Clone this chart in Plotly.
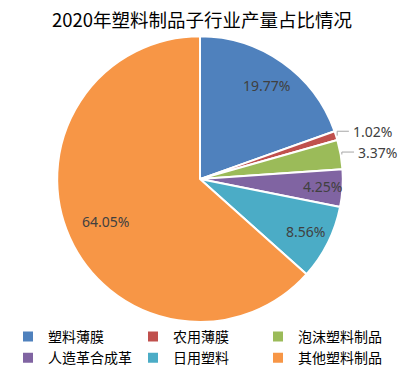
import math
import plotly.graph_objects as go

title = "2020年塑料制品子行业产量占比情况"
categories = ["塑料薄膜", "农用薄膜", "泡沫塑料制品", "人造革合成革", "日用塑料", "其他塑料制品"]
shares = [19.77, 1.02, 3.37, 4.25, 8.56, 64.05]
colors = ["#4F81BD", "#C0504D", "#9BBB59", "#8064A2", "#4BACC6", "#F79646"]

# label placement style (radius fraction along slice bisector; outside labels get leader lines)
label_outside = [False, True, True, False, False, False]
label_radius = [0.8, 1.1, 1.1, 0.85, 0.82, 0.72]

# the page body has an 8px margin, so the figure is sized to fit the 409x374 window
W, H = 401, 366
cx, cy, r = 192, 172.5, 144

fig = go.Figure(go.Pie(
    labels=categories,
    values=shares,
    textinfo="none",
    sort=False,
    direction="clockwise",
    rotation=0,
    marker=dict(colors=colors, line=dict(color="white", width=2)),
    domain=dict(x=[(cx - r) / W, (cx + r) / W], y=[(H - cy - r) / H, (H - cy + r) / H]),
    hoverinfo="label+percent",
))


def to_paper(px, py):
    return px / W, 1 - py / H


total = sum(shares)
cum = 0.0
annotations = []
shapes = []
for v, outside, rf in zip(shares, label_outside, label_radius):
    mid = (cum + v / 2) / total * 2 * math.pi
    cum += v
    sx, sy = math.sin(mid), -math.cos(mid)
    lx, ly = cx + rf * r * sx, cy + rf * r * sy
    txt = f"{v:.2f}%"
    ax, ay = to_paper(lx, ly)
    if outside:
        ex, ey = cx + r * sx, cy + r * sy
        pts = [(ex, ey), (ex, ly), (lx - 2, ly)]
        path = "M " + " L ".join(f"{to_paper(x, y)[0]},{to_paper(x, y)[1]}" for x, y in pts)
        shapes.append(dict(type="path", xref="paper", yref="paper", path=path,
                           line=dict(color="#A6A6A6", width=1)))
    annotations.append(dict(x=ax, y=ay, xref="paper", yref="paper", text=txt,
                            showarrow=False, xanchor="left" if outside else "center",
                            yanchor="middle",
                            font=dict(family="Noto Sans, Arial", size=14, color="#404040")))

fig.update_layout(
    width=W, height=H,
    margin=dict(l=0, r=0, t=0, b=0),
    paper_bgcolor="white",
    title=dict(text=title, x=194 / W, xanchor="center", y=1 - 12.5 / H, yanchor="middle",
               font=dict(family="Noto Sans CJK SC", size=18.5, color="#000000")),
    showlegend=True,
    legend=dict(orientation="h", x=0, xanchor="left", y=1 - 316 / H, yanchor="top",
                entrywidth=80, entrywidthmode="pixels",
                font=dict(family="Noto Sans CJK SC", size=14, color="#000000"),
                tracegroupgap=0, itemwidth=30),
    annotations=annotations,
    shapes=shapes,
)

fig.write_html("out.html")
